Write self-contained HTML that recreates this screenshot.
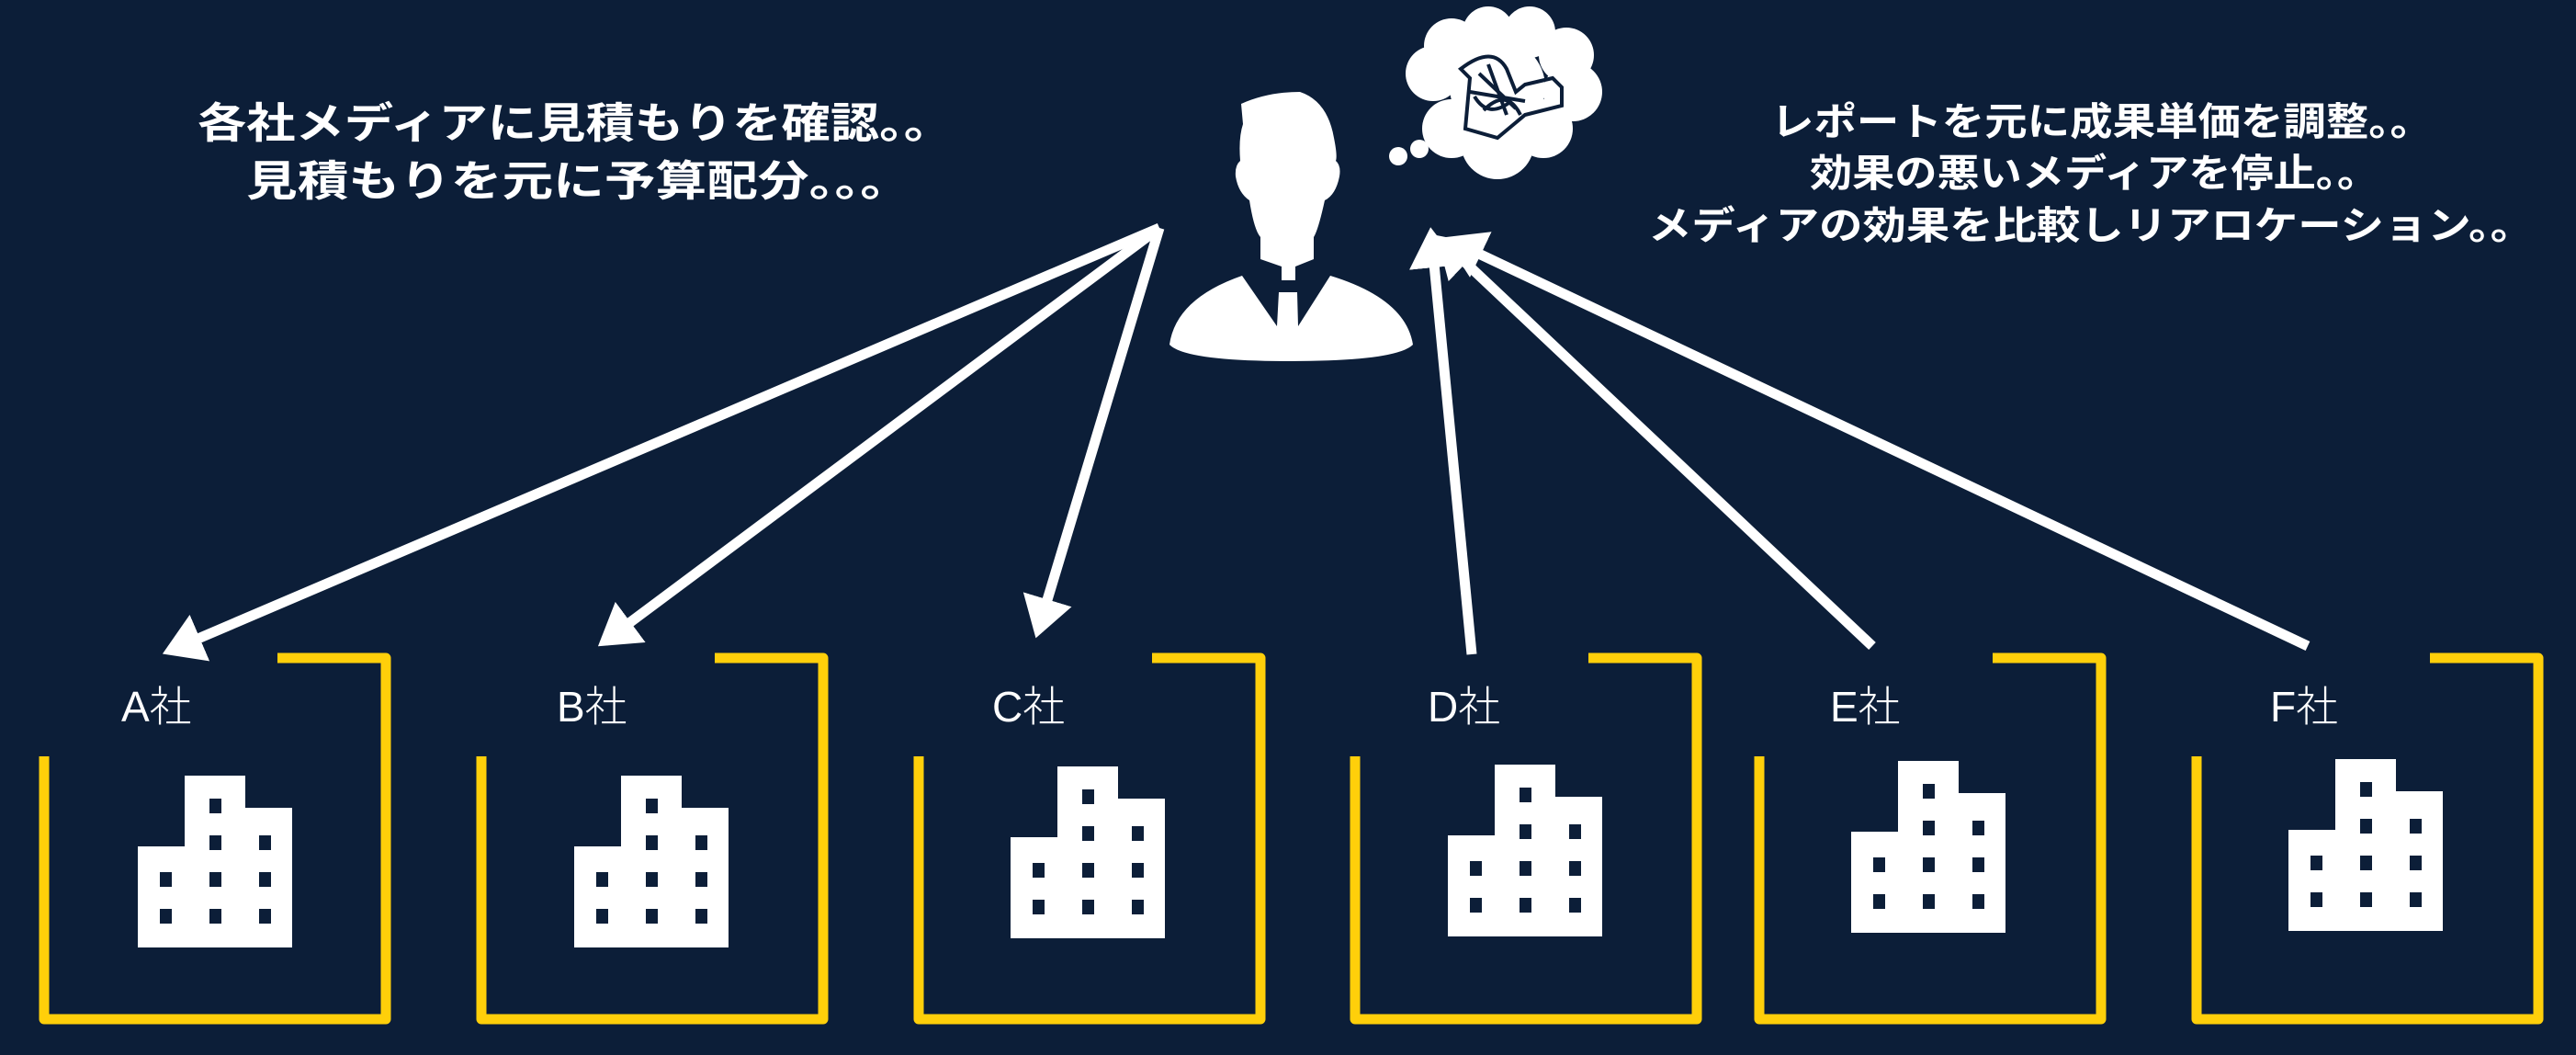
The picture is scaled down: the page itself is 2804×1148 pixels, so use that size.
<!DOCTYPE html>
<html><head><meta charset="utf-8"><style>
html,body{margin:0;padding:0;background:#0c1e38;}
svg{display:block;}
text{font-family:"Liberation Sans","Noto Sans CJK JP",sans-serif;fill:#fff;}
</style></head><body>
<svg width="2804" height="1148" viewBox="0 0 2804 1148" xmlns="http://www.w3.org/2000/svg">
<rect width="2804" height="1148" fill="#0c1e38"/>
<defs>
<g id="box">
  <path d="M254 0 H372 V393 H0 V107" fill="none" stroke="#ffcf0a" stroke-width="11" stroke-linejoin="round"/>
</g>
<g id="bld">
  <rect x="51" y="0" width="66" height="40" fill="#fff"/>
  <rect x="51" y="35" width="117" height="152" fill="#fff"/>
  <rect x="0" y="77" width="60" height="110" fill="#fff"/>
  <g fill="#0c1e38">
    <rect x="78" y="25" width="13" height="16"/>
    <rect x="78" y="65" width="13" height="16"/><rect x="132" y="65" width="13" height="16"/>
    <rect x="24" y="105" width="13" height="16"/><rect x="78" y="105" width="13" height="16"/><rect x="132" y="105" width="13" height="16"/>
    <rect x="24" y="145" width="13" height="16"/><rect x="78" y="145" width="13" height="16"/><rect x="132" y="145" width="13" height="16"/>
  </g>
</g>
<marker id="ah" markerWidth="5" markerHeight="5" refX="3.2" refY="2.5" orient="auto" markerUnits="strokeWidth">
  <path d="M0,0 L4,2.5 L0,5 Z" fill="#fff"/>
</marker>
</defs>

<use href="#box" x="48" y="716"/>
<use href="#box" x="524" y="716"/>
<use href="#box" x="1000" y="716"/>
<use href="#box" x="1475" y="716"/>
<use href="#box" x="1915" y="716"/>
<use href="#box" x="2391" y="716"/>

<g font-size="46" font-weight="300">
<text x="132" y="785">A社</text>
<text x="606" y="785">B社</text>
<text x="1080" y="785">C社</text>
<text x="1554" y="785">D社</text>
<text x="1992" y="785">E社</text>
<text x="2471" y="785">F社</text>
</g>

<use href="#bld" x="150" y="844"/>
<use href="#bld" x="625" y="844"/>
<use href="#bld" x="1100" y="834"/>
<use href="#bld" x="1576" y="832"/>
<use href="#bld" x="2015" y="828"/>
<use href="#bld" x="2491" y="826"/>

<g stroke="#fff" stroke-width="11" marker-end="url(#ah)" fill="none">
<line x1="1262" y1="248" x2="185" y2="708"/>
<line x1="1262" y1="248" x2="658" y2="698"/>
<line x1="1262" y1="248" x2="1130" y2="686"/>
<line x1="1602" y1="712" x2="1558" y2="256"/>
<line x1="2038" y1="703" x2="1570" y2="262"/>
<line x1="2512" y1="703" x2="1580" y2="262"/>
</g>

<g fill="#fff">
  <g transform="translate(20,0)">
  <path d="M1331 113 Q1360 100 1395 100 Q1425 110 1432 150 Q1436 170 1434 175 Q1440 180 1438 192 Q1434 212 1422 218 Q1415 250 1410 258 L1410 282 L1390 290 L1390 305 L1375 305 L1375 290 L1352 282 L1352 258 Q1345 250 1340 218 Q1328 210 1325 192 Q1324 180 1330 175 Q1328 150 1333 135 Z"/>
  </g>
  <path d="M1352 300 L1390 355 L1392 318 L1412 318 L1413 355 L1448 300 Q1530 325 1538 375 Q1520 393 1405 393 Q1290 393 1273 375 Q1280 325 1352 300 Z"/>
</g>

<g fill="#fff">
  <circle cx="1560" cy="80" r="30"/>
  <circle cx="1580" cy="50" r="30"/>
  <circle cx="1620" cy="35" r="28"/>
  <circle cx="1665" cy="35" r="28"/>
  <circle cx="1705" cy="60" r="30"/>
  <circle cx="1712" cy="100" r="32"/>
  <circle cx="1680" cy="140" r="32"/>
  <circle cx="1630" cy="155" r="40"/>
  <circle cx="1580" cy="140" r="32"/>
  <circle cx="1630" cy="95" r="52"/>
  <circle cx="1545" cy="162" r="10"/>
  <circle cx="1522" cy="170" r="10"/>
</g>
<g fill="none" stroke="#0c1e38" stroke-width="4">
  <path d="M1600 85 L1595 140 L1630 150 L1660 125 L1700 115 L1700 95 L1690 85 L1660 92 L1650 100 L1640 75 Q1625 48 1590 75 Z"/>
  <path d="M1610 80 L1650 118 M1620 70 L1640 125 M1600 100 L1660 110 M1615 120 Q1640 95 1655 125 M1605 105 Q1620 130 1645 110"/>
</g>

<g font-weight="bold">
<text x="626" y="150" font-size="46" text-anchor="middle" textLength="822" lengthAdjust="spacingAndGlyphs">各社メディアに見積もりを確認。。</text>
<text x="630" y="213" font-size="46" text-anchor="middle" textLength="724" lengthAdjust="spacingAndGlyphs">見積もりを元に予算配分。。。</text>
<g font-size="42">
<text x="2288" y="147" text-anchor="middle" textLength="720" lengthAdjust="spacingAndGlyphs">レポートを元に成果単価を調整。。</text>
<text x="2280" y="203" text-anchor="middle" textLength="620" lengthAdjust="spacingAndGlyphs">効果の悪いメディアを停止。。</text>
<text x="2276" y="260" text-anchor="middle" textLength="964" lengthAdjust="spacingAndGlyphs">メディアの効果を比較しリアロケーション。。</text>
</g>
</g>
</svg>
</body></html>
